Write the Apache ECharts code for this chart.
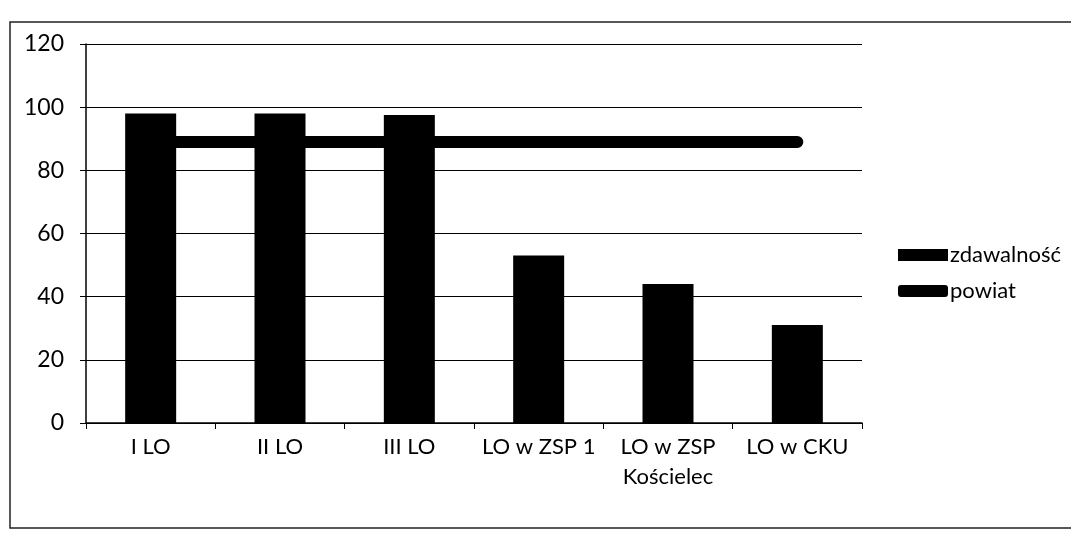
<!DOCTYPE html>
<html>
<head>
<meta charset="utf-8">
<script src="https://cdn.jsdelivr.net/npm/echarts@6/dist/echarts.min.js"></script>
<style>
html,body{margin:0;padding:0;background:#fff;}
#chart{width:1071px;height:540px;}
</style>
</head>
<body>
<div id="chart"></div>
<script>
const categories = ['I LO', 'II LO', 'III LO', 'LO w ZSP 1', 'LO w ZSP\nKościelec', 'LO w CKU'];
const zdawalnosc = [98, 98, 97.5, 53, 44, 31];
const powiat = [89, 89, 89, 89, 89, 89];
const yTicks = [0, 20, 40, 60, 80, 100, 120];

const chart = echarts.init(document.getElementById('chart'));
const font = 'Lato, "Open Sans", sans-serif';
chart.setOption({
  animation: false,
  backgroundColor: '#fff',
  textStyle: { fontFamily: font, color: '#000' },
  graphic: [{
    type: 'rect',
    shape: { x: 10, y: 22, width: 1075, height: 506 },
    style: { fill: 'none', stroke: '#222', lineWidth: 1.5 },
    silent: true
  }],
  grid: { left: 86, right: 209, top: 44, bottom: 117 },
  legend: {
    orient: 'vertical',
    left: 893,
    top: 239,
    itemWidth: 50,
    itemHeight: 12,
    itemGap: 14,
    textStyle: { fontSize: 22, color: '#000', fontFamily: font, padding: [0, 0, 0, -3] },
    data: [
      { name: 'zdawalność', icon: 'rect' },
      { name: 'powiat', icon: 'roundRect' }
    ]
  },
  xAxis: {
    type: 'category',
    data: categories,
    boundaryGap: true,
    axisLine: { lineStyle: { color: '#000', width: 1.5 } },
    axisTick: { show: true, inside: false, length: 6, lineStyle: { color: '#000' } },
    axisLabel: { interval: 0, fontSize: 22, color: '#000', margin: 9, lineHeight: 30, fontFamily: font }
  },
  yAxis: {
    type: 'value',
    min: yTicks[0],
    max: yTicks[yTicks.length - 1],
    interval: 20,
    axisLine: { show: true, lineStyle: { color: '#000', width: 1.5 } },
    axisTick: { show: true, length: 6, lineStyle: { color: '#000' } },
    axisLabel: { fontSize: 23, color: '#000', margin: 22, fontFamily: font },
    splitLine: { show: true, lineStyle: { color: '#000', width: 1.2 } }
  },
  series: [
    {
      name: 'zdawalność',
      type: 'bar',
      data: zdawalnosc,
      barWidth: 51,
      itemStyle: { color: '#000' }
    },
    {
      name: 'powiat',
      type: 'line',
      data: powiat,
      symbol: 'none',
      lineStyle: { color: '#000', width: 12, cap: 'round' },
      itemStyle: { color: '#000' },
      z: 3
    }
  ]
});
</script>
</body>
</html>
